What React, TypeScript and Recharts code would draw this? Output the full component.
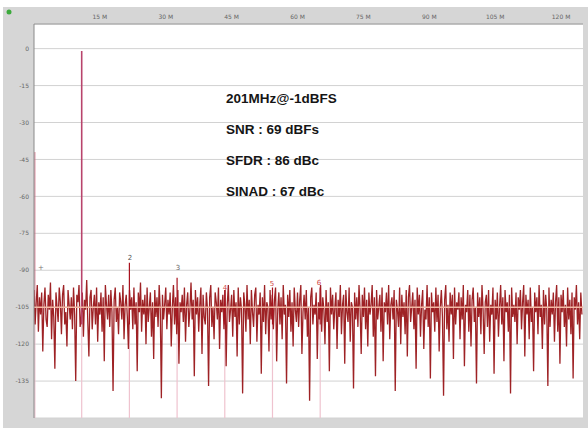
import React from "react";
import { ComposedChart, Line, XAxis, YAxis, CartesianGrid, LabelList } from "recharts";

// ---- axis ticks ----
const X_TICKS = [15, 30, 45, 60, 75, 90, 105, 120];
const Y_TICKS = [0, -15, -30, -45, -60, -75, -90, -105, -120, -135];

// ---- FFT noise floor (dBFS), one value per bin, bin width 0.25 MHz (0 .. 125 MHz) ----
const BIN_MHZ = 0.25;
const NOISE_DB = [
  -98,-112,-103,-96,-115,-101,-108,-99,-123,-104,-97,-110,-113,-100,-106,-95,-118,-102,-109,-130,
  -99,-105,-111,-97,-103,-116,-100,-96,-112,-107,-121,-98,-104,-110,-101,-114,-97,-108,-135,-100,
  -103,-96,-113,-109,-99,-117,-102,-106,-94,-111,-125,-101,-98,-114,-105,-100,-112,-97,-119,-103,
  -108,-99,-115,-101,-127,-96,-104,-110,-100,-113,-98,-107,-139,-102,-97,-111,-105,-116,-99,-103,
  -110,-96,-118,-104,-100,-109,-122,-98,-106,-101,-114,-97,-112,-103,-131,-99,-107,-95,-115,-102,
  -108,-100,-120,-97,-111,-105,-99,-117,-103,-126,-98,-109,-101,-113,-96,-106,-142,-100,-110,-104,
  -97,-114,-102,-108,-99,-121,-105,-96,-112,-101,-116,-98,-128,-103,-107,-100,-111,-97,-119,-104,
  -99,-113,-106,-95,-110,-102,-133,-98,-108,-101,-115,-104,-97,-124,-100,-109,-112,-99,-106,-137,
  -101,-96,-113,-105,-118,-99,-103,-110,-97,-122,-102,-107,-100,-114,-98,-129,-104,-96,-111,-106,
  -100,-117,-98,-109,-103,-125,-97,-112,-101,-106,-140,-99,-104,-115,-96,-110,-102,-120,-98,-107,
  -113,-100,-97,-119,-104,-108,-99,-132,-101,-111,-96,-116,-103,-105,-123,-98,-110,-100,-114,-102,
  -97,-127,-106,-99,-112,-101,-118,-96,-108,-104,-136,-100,-109,-98,-115,-103,-121,-97,-106,-111,
  -99,-113,-102,-96,-124,-107,-100,-110,-98,-117,-105,-143,-101,-97,-112,-104,-108,-99,-126,-103,
  -110,-96,-115,-101,-106,-120,-98,-111,-103,-131,-97,-108,-100,-114,-105,-99,-122,-102,-109,-96,
  -116,-104,-100,-128,-98,-107,-111,-97,-119,-103,-105,-138,-99,-110,-101,-113,-96,-106,-124,-100,
  -109,-97,-114,-102,-121,-99,-108,-104,-96,-117,-101,-133,-98,-110,-105,-100,-115,-97,-127,-103,
  -107,-99,-112,-96,-118,-104,-101,-110,-98,-139,-102,-106,-113,-97,-120,-100,-109,-103,-116,-98,
  -125,-101,-96,-111,-105,-99,-114,-102,-130,-97,-108,-100,-117,-104,-98,-122,-106,-110,-96,-113,
  -101,-134,-99,-107,-103,-115,-97,-111,-100,-123,-105,-98,-109,-141,-102,-96,-114,-104,-119,-99,
  -108,-100,-126,-97,-112,-103,-106,-99,-118,-101,-110,-96,-129,-104,-107,-98,-115,-100,-121,-102,
  -97,-111,-105,-136,-99,-109,-101,-116,-96,-106,-124,-103,-100,-113,-98,-119,-104,-108,-97,-132,
  -102,-110,-99,-117,-105,-96,-112,-101,-127,-98,-107,-103,-115,-100,-140,-97,-109,-104,-111,-99,
  -120,-101,-106,-98,-114,-103,-96,-125,-100,-108,-102,-118,-97,-111,-105,-131,-99,-107,-101,-116,
  -96,-109,-104,-122,-98,-112,-100,-106,-137,-97,-113,-102,-108,-99,-119,-103,-96,-115,-101,-128,
  -100,-107,-98,-113,-104,-121,-97,-110,-102,-116,-99,-134,-101,-106,-96,-112,-103,-118,-99,-108,
];

// ---- fundamental and harmonics ----
const FUND_MHZ = 10.86;
const FUND_DB = -1;
const DC_MHZ = 0.2;
const DC_DB = -42;
const HARM_MHZ = [21.72, 32.58, 43.44, 54.3, 65.16];
const HARM_DB = [-87, -93, -98, -97, -97];
const NOISE_MEAN_DB = -105;
const FLOOR_DB = -150;
const BAND_BOTTOM_DB = -112;

// ---- harmonic markers ----
const MARK_NAMES = ["+", "2", "3", "4", "5", "6"];
const MARK_MHZ = [1.6, 21.85, 32.8, 43.5, 54.2, 64.9];
const MARK_DB = [-89, -85, -89, -97.2, -95.6, -95.2];
const MARK_COLORS = ["#777777", "#555555", "#666666", "#d04848", "#d04848", "#d04848"];

const ANNOTATION = ["201MHz@-1dBFS", "SNR : 69 dBFs", "SFDR : 86 dBc", "SINAD : 67 dBc"];

const traceData = NOISE_DB.map((v, i) => ({ f: i * BIN_MHZ, v }));
const meanData = [{ f: 0, v: NOISE_MEAN_DB }, { f: 125, v: NOISE_MEAN_DB }];
const fundTop = [{ f: FUND_MHZ, v: BAND_BOTTOM_DB }, { f: FUND_MHZ, v: FUND_DB }];
const stems: { f: number; v: number | null }[] = [];
[DC_MHZ, FUND_MHZ, ...HARM_MHZ].forEach((f) => {
  stems.push({ f, v: FLOOR_DB });
  stems.push({ f, v: BAND_BOTTOM_DB });
  stems.push({ f, v: null });
});
const spurs: { f: number; v: number | null }[] = [];
HARM_MHZ.forEach((f, i) => {
  spurs.push({ f, v: BAND_BOTTOM_DB });
  spurs.push({ f, v: HARM_DB[i] });
  spurs.push({ f, v: null });
});
const dcData = [{ f: DC_MHZ, v: BAND_BOTTOM_DB }, { f: DC_MHZ, v: DC_DB }];
const markData = MARK_NAMES.map((name, i) => ({ f: MARK_MHZ[i], v: MARK_DB[i], name, color: MARK_COLORS[i] }));

const MarkLabel = (props: any) => {
  const { x, y, index } = props;
  const m = markData[index];
  return (
    <text x={x} y={y} textAnchor="middle" dominantBaseline="middle" fontSize={7} fill={m.color} fontFamily="DejaVu Sans">
      {m.name}
    </text>
  );
};

export default function App() {
  return (
    <div style={{ position: "absolute", left: 0, top: 0, width: 588, height: 428, background: "#ffffff", overflow: "hidden" }}>
      <div style={{ position: "absolute", left: 3, top: 7, width: 585, height: 421, background: "#d6d6d6" }} />
      <div style={{ position: "absolute", left: 0, top: 0 }}>
        <ComposedChart width={588} height={428} margin={{ top: 10, right: 5, bottom: 10, left: 4 }}>
          <CartesianGrid vertical={false} stroke="#d2d2d2" fill="#ffffff" />
          <XAxis
            type="number"
            dataKey="f"
            orientation="top"
            domain={[0, 125]}
            ticks={X_TICKS}
            tickFormatter={(v) => `${v} M`}
            height={14}
            tickSize={0}
            tickMargin={5}
            stroke="#9a9a9a"
            tick={{ fontSize: 6, fill: "#666", fontFamily: "DejaVu Sans" }}
            allowDataOverflow
          />
          <XAxis xAxisId="bottom" type="number" orientation="bottom" domain={[0, 125]} height={0} tick={false} tickLine={false} stroke="#b0b0b0" />
          <YAxis
            type="number"
            domain={[-150, 10]}
            ticks={Y_TICKS}
            width={30}
            tickSize={0}
            tickMargin={5}
            stroke="#8a8a8a"
            tick={{ fontSize: 6, fill: "#666", fontFamily: "DejaVu Sans" }}
            allowDataOverflow
          />
          <YAxis yAxisId="right" orientation="right" type="number" domain={[-150, 10]} width={0} tick={false} tickLine={false} stroke="#b0b0b0" />

          <Line data={stems} dataKey="v" stroke="#efc3cf" strokeWidth={1.2} dot={false} isAnimationActive={false} connectNulls={false} />
          <Line data={dcData} dataKey="v" stroke="#d77088" strokeWidth={1} dot={false} isAnimationActive={false} />
          <Line data={traceData} dataKey="v" stroke="#940a0d" strokeWidth={1.3} strokeOpacity={0.9} dot={false} isAnimationActive={false} />
          <Line data={spurs} dataKey="v" stroke="#a8121f" strokeWidth={1.2} dot={false} isAnimationActive={false} connectNulls={false} />
          <Line data={fundTop} dataKey="v" stroke="#b8446c" strokeWidth={1.6} dot={false} isAnimationActive={false} />
          <Line data={meanData} dataKey="v" stroke="#f4b8a4" strokeWidth={1.5} dot={false} isAnimationActive={false} />
          <Line data={markData} dataKey="v" stroke="none" dot={false} isAnimationActive={false}>
            <LabelList dataKey="name" content={<MarkLabel />} />
          </Line>

          <g fontFamily="Liberation Sans" fontWeight="bold" fontSize={13.5} fill="#151515">
            <text x={226} y={103}>{ANNOTATION[0]}</text>
            <text x={226} y={134}>{ANNOTATION[1]}</text>
            <text x={226} y={165}>{ANNOTATION[2]}</text>
            <text x={226} y={196}>{ANNOTATION[3]}</text>
          </g>
          <circle cx={9} cy={12} r={2.5} fill="#3caa3c" />
        </ComposedChart>
      </div>
    </div>
  );
}
